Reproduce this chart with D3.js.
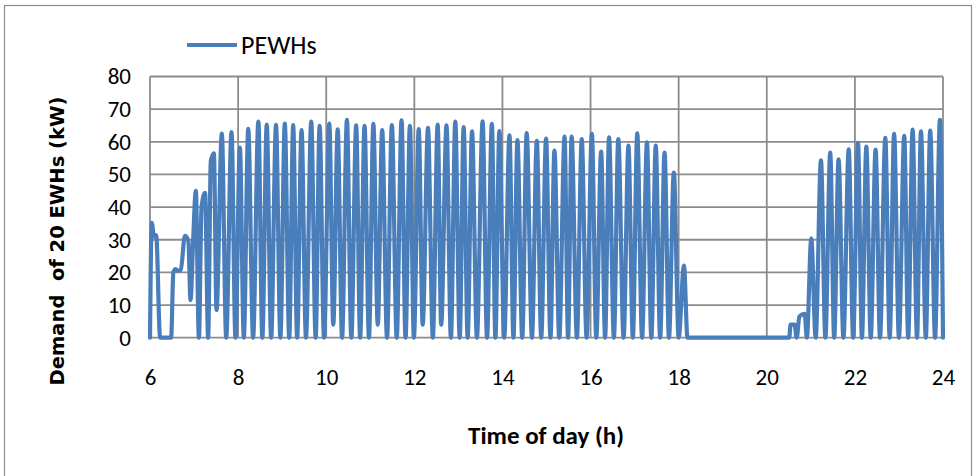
<!DOCTYPE html>
<html>
<head>
<meta charset="utf-8">
<script src="https://cdn.jsdelivr.net/npm/d3@7"></script>
<style>
  html, body { margin: 0; padding: 0; background: #fff; }
  svg { display: block; }
  .tick-label { font-family: Carlito, "Liberation Sans Narrow", "Open Sans", sans-serif; font-size: 23px; fill: #000; }
  .x-title { font-family: Carlito, "Liberation Sans Narrow", "Open Sans", sans-serif; font-size: 25px; font-weight: bold; }
  .y-title { font-family: "DejaVu Sans", Verdana, sans-serif; font-size: 19.5px; font-weight: bold; white-space: pre; }
  .legend-label { font-family: Carlito, "Liberation Sans Narrow", "Open Sans", sans-serif; font-size: 26px; }
</style>
</head>
<body>
<svg id="chart" width="978" height="476"></svg>
<script>
// Aggregate demand of 20 electric water heaters, sampled at the turning points of the load curve
const hours = [
  6.00, 6.04, 6.09, 6.14, 6.23, 6.48, 6.53, 6.58, 6.63, 6.70, 6.79, 6.87, 6.92, 6.98,
  7.04, 7.11, 7.17, 7.25, 7.32, 7.38, 7.45, 7.51, 7.63, 7.73, 7.85, 7.94,
  8.04, 8.13, 8.23, 8.34, 8.46, 8.55, 8.65, 8.75, 8.86, 8.96,
  9.06, 9.16, 9.25, 9.34, 9.44, 9.54, 9.66, 9.76, 9.85, 9.95,
  10.07, 10.16, 10.26, 10.36, 10.47, 10.57, 10.68, 10.77, 10.87, 10.97,
  11.07, 11.17, 11.27, 11.38, 11.49, 11.60, 11.71, 11.80, 11.90, 11.99,
  12.10, 12.19, 12.31, 12.42, 12.53, 12.61, 12.73, 12.83, 12.93, 13.03,
  13.12, 13.21, 13.31, 13.42, 13.55, 13.65, 13.76, 13.84, 13.93, 14.04,
  14.16, 14.25, 14.34, 14.45, 14.55, 14.67, 14.78, 14.88, 14.99, 15.09,
  15.18, 15.29, 15.41, 15.49, 15.57, 15.69, 15.80, 15.91, 16.03, 16.13,
  16.24, 16.33, 16.42, 16.53, 16.63, 16.75, 16.86, 16.96, 17.06, 17.17,
  17.28, 17.38, 17.48, 17.58, 17.68, 17.78, 17.89, 18.00, 18.12, 18.20,
  20.51, 20.54, 20.63, 20.68, 20.74, 20.86, 20.91, 21.01, 21.11,
  21.23, 21.33, 21.44, 21.53, 21.63, 21.74, 21.86, 21.96, 22.07, 22.16,
  22.26, 22.36, 22.47, 22.57, 22.69, 22.79, 22.89, 23.00, 23.12, 23.21,
  23.31, 23.41, 23.50, 23.61, 23.71, 23.82, 23.93, 24.00
];
const demandKW = [
  0, 35.2, 31, 31.4, 0, 0, 20, 21, 20.5, 20.8, 31.2, 29.8, 11.5, 30,
  45, 0, 40, 44.4, 0, 54, 56.5, 8.5, 62.5, 0, 63, 0,
  58.2, 0, 64, 0, 66.2, 0, 65.3, 0, 65.2, 0,
  65.6, 0, 65.1, 0, 63.6, 0, 66.2, 0, 64.9, 0,
  65.6, 4, 63.8, 0, 66.7, 0, 65, 0, 64.9, 0,
  65.5, 4, 63.6, 0, 65.1, 0, 66.6, 0, 64.9, 0,
  63.9, 4, 64.3, 0, 65.3, 4, 65, 0, 66.2, 0,
  64.5, 0, 63.2, 0, 66.3, 0, 65.5, 0, 63.3, 0,
  62, 0, 60.5, 0, 62.7, 0, 60.3, 0, 61, 0,
  57.3, 0, 61.6, 0, 61.6, 0, 60.8, 0, 62.4, 0,
  57, 0, 61.4, 0, 60.8, 0, 58.8, 0, 62.6, 0,
  59.8, 0, 58.8, 0, 56.7, 0, 50.6, 0, 22.1, 0,
  0, 4, 4, 0, 6.5, 7.3, 0, 30.4, 0,
  54.3, 0, 56.7, 0, 54.6, 0, 57.7, 0, 59.7, 0,
  58.5, 0, 57.6, 0, 61.2, 0, 62.4, 0, 61.8, 0,
  63.7, 0, 63.2, 0, 63.4, 0, 66.7, 0
];
const xTicks = [6, 8, 10, 12, 14, 16, 18, 20, 22, 24];
const yTicks = [0, 10, 20, 30, 40, 50, 60, 70, 80];
const seriesName = "PEWHs";
const xTitle = "Time of day (h)";
const yTitle = "Demand  of 20 EWHs (kW)";

const svg = d3.select("#chart");
const W = 978, H = 476;
const plot = { left: 150, right: 943, top: 76.5, bottom: 337.7 };
const gridColor = "#8c8c8c";
const lineColor = "#4a7ebb";

svg.append("rect").attr("width", W).attr("height", H).attr("fill", "#fff");
// outer chart frame
svg.append("rect")
  .attr("x", 4.5).attr("y", 5.5).attr("width", 967).attr("height", 490)
  .attr("fill", "none").attr("stroke", "#8c8c8c").attr("stroke-width", 1.2);

const x = d3.scaleLinear().domain([6, 24]).range([plot.left, plot.right]);
const y = d3.scaleLinear().domain([0, 80]).range([plot.bottom, plot.top]);

// gridlines
const grid = svg.append("g");
grid.selectAll("line.h").data(yTicks).join("line")
  .attr("x1", plot.left).attr("x2", plot.right)
  .attr("y1", d => y(d)).attr("y2", d => y(d))
  .attr("stroke", gridColor).attr("stroke-width", 1.8);
grid.selectAll("line.v").data(xTicks).join("line")
  .attr("x1", d => x(d)).attr("x2", d => x(d))
  .attr("y1", plot.top).attr("y2", plot.bottom)
  .attr("stroke", gridColor).attr("stroke-width", 1.8);

// axes (labels only; lines come from the grid)
const yAxis = svg.append("g").attr("transform", `translate(${plot.left},0)`)
  .call(d3.axisLeft(y).tickValues(yTicks).tickSize(0).tickPadding(19));
const xAxis = svg.append("g").attr("transform", `translate(0,${plot.bottom})`)
  .call(d3.axisBottom(x).tickValues(xTicks).tickSize(0).tickPadding(31));
[yAxis, xAxis].forEach(g => {
  g.attr("font-size", null).attr("font-family", null);
  g.select(".domain").remove();
  g.selectAll("text").attr("class", "tick-label");
});

// demand curve
const points = d3.zip(hours, demandKW);
const line = d3.line()
  .x(d => x(d[0]))
  .y(d => y(d[1]))
  .curve(d3.curveMonotoneX);
svg.append("path").datum(points)
  .attr("d", line)
  .attr("fill", "none")
  .attr("stroke", lineColor)
  .attr("stroke-width", 4.2)
  .attr("stroke-linejoin", "round")
  .attr("stroke-linecap", "round");

// legend
svg.append("line")
  .attr("x1", 187).attr("x2", 237).attr("y1", 45).attr("y2", 45)
  .attr("stroke", lineColor).attr("stroke-width", 4);
svg.append("text").attr("class", "legend-label")
  .attr("x", 241).attr("y", 54).text(seriesName);

// axis titles
svg.append("text").attr("class", "x-title")
  .attr("x", 546).attr("y", 444).attr("text-anchor", "middle").text(xTitle);
svg.append("text").attr("class", "y-title")
  .attr("transform", "translate(64,241) rotate(-90)")
  .attr("text-anchor", "middle").text(yTitle);
</script>
</body>
</html>
